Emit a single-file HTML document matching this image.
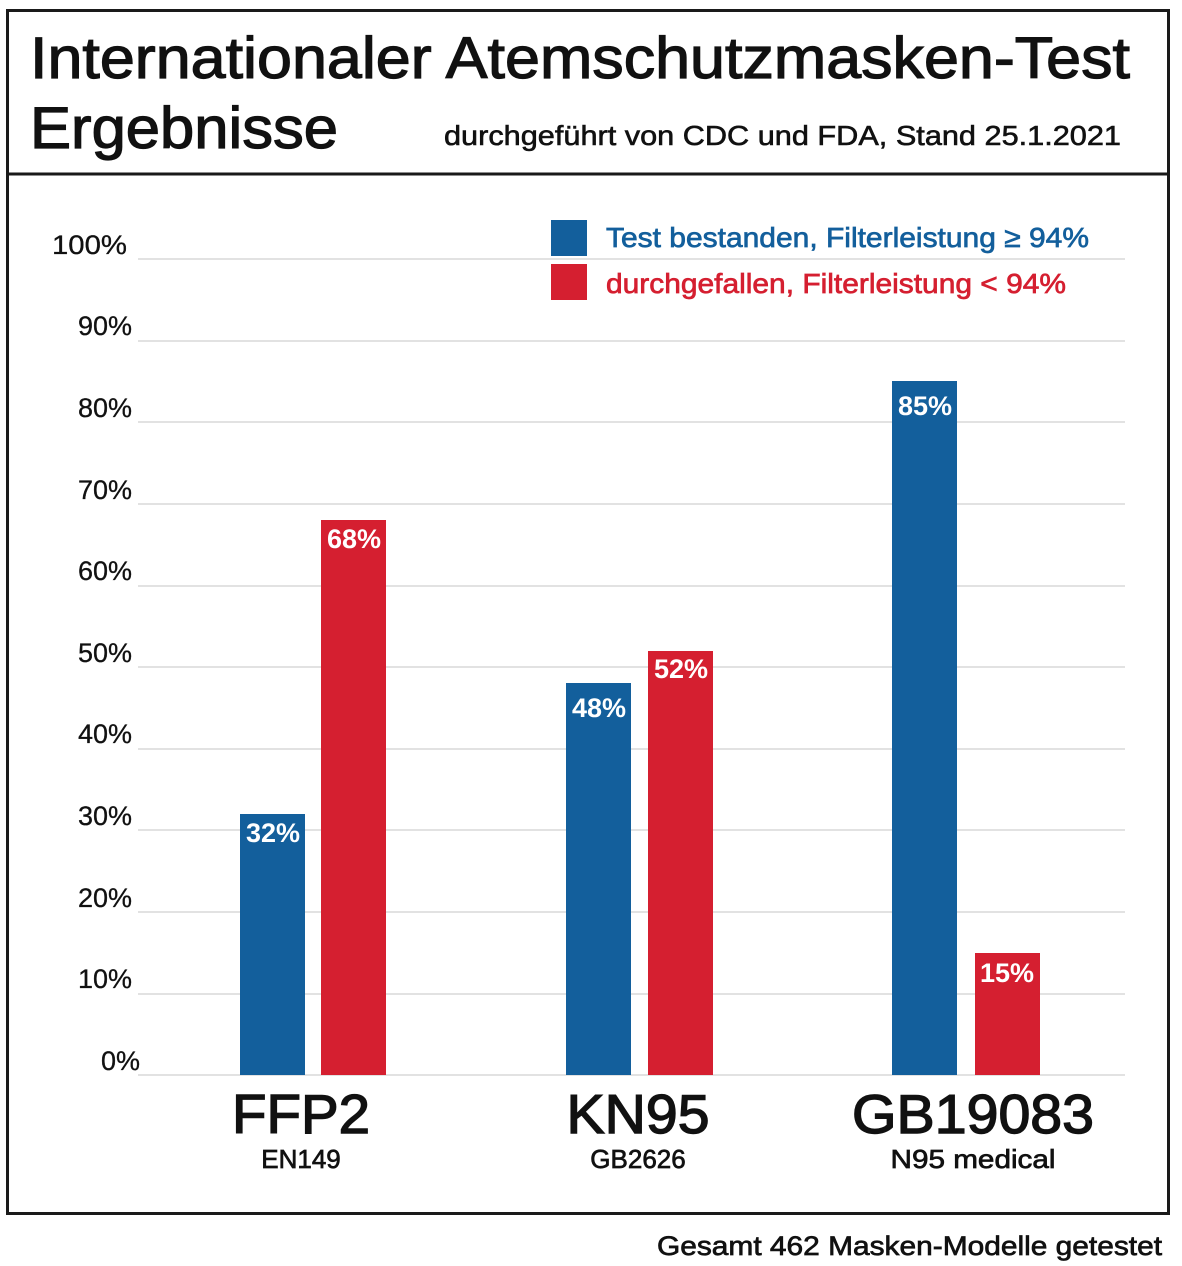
<!DOCTYPE html>
<html><head><meta charset="utf-8"><style>
html,body{margin:0;padding:0;background:#fff;}
svg{display:block;}
text{font-family:"Liberation Sans",Arial,sans-serif;}
</style></head><body>
<svg width="1182" height="1266" viewBox="0 0 1182 1266" xmlns="http://www.w3.org/2000/svg">
<rect x="7.5" y="10.5" width="1161" height="1203" fill="#fff" stroke="#1a1a1a" stroke-width="3"/>
<line x1="6" y1="174" x2="1170" y2="174" stroke="#1a1a1a" stroke-width="3"/>
<g fill="#111" stroke="#111" stroke-width="1.2">
<text x="30" y="78" font-size="58" textLength="1100" lengthAdjust="spacingAndGlyphs">Internationaler Atemschutzmasken-Test</text>
<text x="30" y="148" font-size="58" textLength="308" lengthAdjust="spacingAndGlyphs">Ergebnisse</text>
</g>
<text x="444" y="145" font-size="28" fill="#111" stroke="#111" stroke-width="0.6" textLength="677" lengthAdjust="spacingAndGlyphs">durchgeführt von CDC und FDA, Stand 25.1.2021</text>
<g stroke="#e2e2e2" stroke-width="2">
<line x1="138" y1="259" x2="1125" y2="259"/><line x1="138" y1="341" x2="1125" y2="341"/>
<line x1="138" y1="422" x2="1125" y2="422"/><line x1="138" y1="504" x2="1125" y2="504"/>
<line x1="138" y1="586" x2="1125" y2="586"/><line x1="138" y1="667" x2="1125" y2="667"/>
<line x1="138" y1="749" x2="1125" y2="749"/><line x1="138" y1="830" x2="1125" y2="830"/>
<line x1="138" y1="912" x2="1125" y2="912"/><line x1="138" y1="994" x2="1125" y2="994"/>
<line x1="138" y1="1075" x2="1125" y2="1075"/>
</g>
<g font-size="27" fill="#111" stroke="#111" stroke-width="0.3" text-anchor="end">
<text x="127" y="254" textLength="75" lengthAdjust="spacingAndGlyphs">100%</text><text x="132" y="335">90%</text><text x="132" y="417">80%</text>
<text x="132" y="499">70%</text><text x="132" y="580">60%</text><text x="132" y="662">50%</text>
<text x="132" y="743">40%</text><text x="132" y="825">30%</text><text x="132" y="907">20%</text>
<text x="132" y="988">10%</text><text x="140" y="1070">0%</text>
</g>
<rect x="551" y="220" width="36" height="36" fill="#135f9c"/>
<rect x="551" y="264" width="36" height="36" fill="#d51f30"/>
<text x="606" y="247" font-size="28" fill="#135f9c" stroke="#135f9c" stroke-width="0.7" textLength="483" lengthAdjust="spacingAndGlyphs">Test bestanden, Filterleistung ≥ 94%</text>
<text x="606" y="293" font-size="28" fill="#d51f30" stroke="#d51f30" stroke-width="0.7" textLength="460" lengthAdjust="spacingAndGlyphs">durchgefallen, Filterleistung &lt; 94%</text>
<rect x="240" y="814" width="65" height="261" fill="#135f9c"/>
<rect x="321" y="520" width="65" height="555" fill="#d51f30"/>
<rect x="566" y="683" width="65" height="392" fill="#135f9c"/>
<rect x="648" y="651" width="65" height="424" fill="#d51f30"/>
<rect x="892" y="381" width="65" height="694" fill="#135f9c"/>
<rect x="975" y="953" width="65" height="122" fill="#d51f30"/>
<g font-size="27" font-weight="bold" fill="#fff" text-anchor="middle">
<text x="273" y="842">32%</text><text x="354" y="548">68%</text>
<text x="599" y="717">48%</text><text x="681" y="678">52%</text>
<text x="925" y="415">85%</text><text x="1007" y="982">15%</text>
</g>
<g fill="#111" stroke="#111" text-anchor="middle">
<text x="301" y="1133" font-size="55" stroke-width="1.4" textLength="138" lengthAdjust="spacingAndGlyphs">FFP2</text>
<text x="638" y="1133" font-size="55" stroke-width="1.4" textLength="143" lengthAdjust="spacingAndGlyphs">KN95</text>
<text x="973" y="1133" font-size="55" stroke-width="1.4" textLength="242" lengthAdjust="spacingAndGlyphs">GB19083</text>
<text x="301" y="1168" font-size="26" stroke-width="0.7">EN149</text>
<text x="638" y="1168" font-size="26" stroke-width="0.7">GB2626</text>
<text x="973" y="1168" font-size="26" stroke-width="0.7" textLength="165" lengthAdjust="spacingAndGlyphs">N95 medical</text>
</g>
<text x="1162" y="1255" font-size="27" fill="#111" stroke="#111" stroke-width="0.7" text-anchor="end" textLength="505" lengthAdjust="spacingAndGlyphs">Gesamt 462 Masken-Modelle getestet</text>
</svg>
</body></html>
